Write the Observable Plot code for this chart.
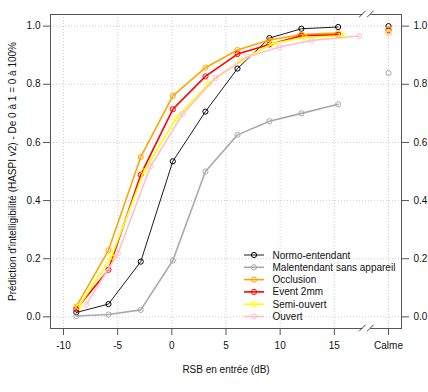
<!DOCTYPE html>
<html><head><meta charset="utf-8">
<script src="https://cdn.jsdelivr.net/npm/d3@7"></script>
<script src="https://cdn.jsdelivr.net/npm/@observablehq/plot@0.6"></script>
<style>
body{margin:0;background:#fff}
#chart svg{font-family:"Liberation Sans",Arial,sans-serif}
</style>
</head><body><div id="chart"></div>
<script>
// ---- data ----
const seriesNames = ["Normo-entendant","Malentendant sans appareil","Occlusion","Event 2mm","Semi-ouvert","Ouvert"];
const snrCommon = [-8.82,-5.85,-2.87,0.09,3.1,6.06,9.01,11.96,15.35];
const snrSemi   = [-8.6,-5.56,-2.58,0.4,3.4,6.34,9.29,12.27,15.84];
const snrOuvert = [-7.9,-4.98,-1.96,1.01,4.03,7.0,9.94,12.9,17.3];
const normo     = [0.015,0.044,0.19,0.535,0.706,0.854,0.959,0.991,0.997];
const malent    = [0.003,0.008,0.024,0.194,0.50,0.626,0.673,0.700,0.731];
const occlusion = [0.035,0.229,0.55,0.76,0.857,0.918,0.952,0.971,0.976];
const event2mm  = [0.026,0.162,0.489,0.714,0.827,0.904,0.937,0.967,0.970];
const semi      = [0.035,0.207,0.50,0.683,0.802,0.881,0.940,0.962,0.967];
const ouvert    = [0.042,0.218,0.518,0.698,0.822,0.895,0.928,0.951,0.966];
const calme     = [1.0,0.839,0.99,0.985,0.98,0.975];
const xTicks = [-10,-5,0,5,10,15,20];
const xTickLabels = ["-10","-5","0","5","10","15","Calme"];
const yTicks = [0,0.2,0.4,0.6,0.8,1];
const calmeX = 20;
const breakX = 18;
const xTitle = "RSB en entrée (dB)";
const yTitle = "Prédiction d'intelligibilité (HASPI v2) - De 0 à 1 = 0 à 100%";

// ---- styles ----
const colors = ["#000000","#A9A9A9","#FFA500","#FF0000","#FFFF00","#FFC0CB"];
const widths = [0.9,1.6,1.6,1.6,1.6,1.6];

const xs = [snrCommon,snrCommon,snrCommon,snrCommon,snrSemi,snrOuvert];
const ys = [normo,malent,occlusion,event2mm,semi,ouvert];
const rows = seriesNames.map((s,i)=>xs[i].map((x,j)=>({series:s,x,y:ys[i][j]})));
const calmeRows = seriesNames.map((s,i)=>({series:s,x:calmeX,y:calme[i]}));

const axisColor = "#555";

function breakMarks(index, scales, values, dim) {
  const x = scales.x(breakX);
  const g = d3.create("svg:g");
  for (const y of [dim.marginTop, dim.height - dim.marginBottom]) {
    g.append("rect").attr("x", x-4).attr("y", y-1.5).attr("width", 8).attr("height", 3).attr("fill", "white");
    for (const off of [-4, 4]) {
      g.append("line").attr("x1", x+off-3.3).attr("y1", y+3.3).attr("x2", x+off+3.3).attr("y2", y-3.3)
        .attr("stroke", "#333").attr("stroke-width", 0.9);
    }
  }
  return g.node();
}

function legendMark(index, scales, values, dim) {
  const g = d3.create("svg:g").attr("text-anchor", "start");
  const x0 = 244, y0 = 255, dy = 12.3;
  seriesNames.forEach((s,i)=>{
    const y = y0 + i*dy;
    g.append("line").attr("x1", x0).attr("x2", x0+20).attr("y1", y).attr("y2", y)
      .attr("stroke", colors[i]).attr("stroke-width", widths[i]);
    g.append("circle").attr("cx", x0+10).attr("cy", y).attr("r", 2.6)
      .attr("fill", "none").attr("stroke", colors[i]).attr("stroke-width", 1);
    g.append("text").attr("x", x0+28.5).attr("y", y).attr("dy", "0.35em")
      .attr("text-anchor", "start").attr("font-size", 10).attr("fill", "#111").text(s);
  });
  return g.node();
}

const lineMarks = rows.flatMap((r,i)=>[
  Plot.line(r, {x:"x", y:"y", stroke: colors[i], strokeWidth: widths[i]}),
  Plot.dot(r, {x:"x", y:"y", stroke: colors[i], r: 2.6, strokeWidth: 1, fill: "none"})
]);

const chart = Plot.plot({
  width: 428, height: 392,
  marginLeft: 50, marginRight: 27, marginTop: 14, marginBottom: 64,
  style: {fontSize: "10px", fontFamily: '"Liberation Sans", Arial, sans-serif', color: "#111", background: "white"},
  x: {domain: [-11.2, 21.2]},
  y: {domain: [-0.04, 1.04]},
  marks: [
    Plot.gridX(xTicks, {stroke: "#cfcfcf", strokeOpacity: 1, strokeDasharray: "1,2"}),
    Plot.gridY(yTicks, {stroke: "#cfcfcf", strokeOpacity: 1, strokeDasharray: "1,2"}),
    Plot.frame({stroke: axisColor, strokeWidth: 1}),
    Plot.axisX(xTicks, {anchor: "bottom", tickSize: 7, tickPadding: 6, stroke: axisColor, label: null,
      tickFormat: d => xTickLabels[xTicks.indexOf(d)]}),
    Plot.axisY(yTicks, {anchor: "left", tickSize: 7, tickPadding: 3, stroke: axisColor, label: null, tickFormat: d3.format(".1f")}),
    Plot.axisY(yTicks, {anchor: "right", tickSize: 7, tickPadding: 5, stroke: axisColor, label: null, tickFormat: d3.format(".1f")}),
    ...lineMarks,
    Plot.dot(calmeRows, {x:"x", y:"y", stroke: (d)=>colors[seriesNames.indexOf(d.series)], r: 2.6, strokeWidth: 1, fill: "none"}),
    breakMarks,
    legendMark,
    Plot.text([xTitle], {frameAnchor: "bottom", dy: 44, fill: "#111", fontSize: 10, textAnchor: "middle"}),
    Plot.text([yTitle], {frameAnchor: "left", dx: -38, rotate: -90, fill: "#111", fontSize: 10, textAnchor: "middle"})
  ]
});
document.getElementById("chart").appendChild(chart);
</script>
</body></html>
